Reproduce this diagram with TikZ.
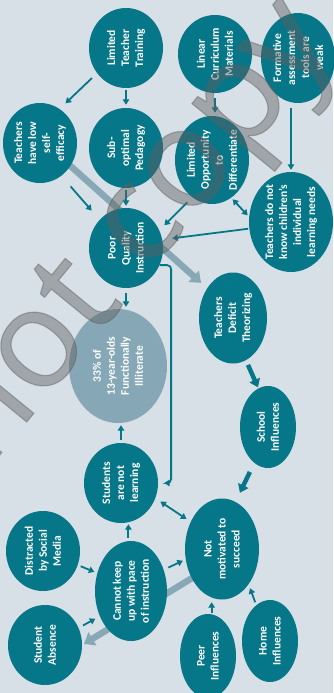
\documentclass[tikz,border=0pt]{standalone}
\usepackage{fontspec}
\setmainfont{Carlito}
\newfontfamily\wmfont{Open Sans}[FakeBold=0.8]
\usetikzlibrary{shapes.geometric,arrows.meta,calc}
\definecolor{bgc}{RGB}{215,224,231}
\definecolor{teal1}{RGB}{6,118,137}
\definecolor{lightb}{RGB}{134,167,181}
\definecolor{lightarr}{RGB}{137,168,182}
\definecolor{wmgray}{RGB}{95,95,95}
\pgfdeclarelayer{bglayer}
\pgfdeclarelayer{fglayer}
\pgfsetlayers{bglayer,main,fglayer}
\begin{document}
\begin{tikzpicture}[x=1pt,y=-1pt,
  bub/.style n args={2}{ellipse, fill=teal1, inner sep=0pt, minimum width=#1, minimum height=#2},
  txt/.style={rotate=90, align=center, text=white, inner sep=0pt,
              font=\fontsize{11.5}{14}\selectfont\bfseries},
  arr/.style={draw=teal1, line width=1.8pt, -{Triangle[width=6.5pt,length=5.5pt]}},
  darr/.style={draw=teal1, line width=1.8pt, {Triangle[width=6.5pt,length=5.5pt]}-{Triangle[width=6.5pt,length=5.5pt]}},
  bigarr/.style={draw=teal1, line width=4.5pt, -{Triangle[width=11pt,length=8pt]}},
  light/.style={draw=lightarr, line width=6.5pt, -{Triangle[width=15pt,length=10pt]}},
]
\useasboundingbox (0,0) rectangle (333,693);

% bubbles
\node[bub={74pt}{80pt}]   (ltt) at (126,48)  {};
\node[bub={74pt}{78pt}]   (lcm) at (215,54)  {};
\node[bub={74pt}{90pt}]   (fat) at (298,58)  {};
\node[bub={74pt}{80pt}]   (tls) at (40,143)  {};
\node[bub={74pt}{80pt}]   (sop) at (126,148) {};
\node[bub={74pt}{88pt}]   (lod) at (212,160) {};
\node[bub={84pt}{100pt}]  (tdn) at (291,222) {};
\node[bub={74pt}{80pt}]   (pqi) at (126,248) {};
\node[bub={98pt}{114pt}, fill=lightb] (lit) at (118,366) {};
\node[bub={68pt}{91pt}]   (tdt) at (233,318) {};
\node[bub={56pt}{82pt}]   (sch) at (268,427) {};
\node[bub={74pt}{80pt}]   (snl) at (121,483) {};
\node[bub={74pt}{80pt}]   (dsm) at (43,551)  {};
\node[bub={72pt}{100pt}]  (cku) at (131,591) {};
\node[bub={74pt}{80pt}]   (sab) at (45,645)  {};
\node[bub={74pt}{101pt}]  (nms) at (222,549) {};
\node[bub={56pt}{84pt}]   (pei) at (208,656) {};
\node[bub={56pt}{82pt}]   (hoi) at (270,641) {};

% texts
\node[txt] (ltt-t) at (ltt) {Limited\\Teacher\\Training};
\node[txt] (lcm-t) at (lcm) {Linear\\Curriculum\\Materials};
\node[txt] (fat-t) at (fat) {Formative\\assessment\\tools are\\weak};
\node[txt] (tls-t) at (tls) {Teachers\\have low\\self-\\efficacy};
\node[txt] (sop-t) at (sop) {Sub-\\optimal\\Pedagogy};
\node[txt] (lod-t) at (lod) {Limited\\Opportunity\\to\\Differentiate};
\node[txt] (tdn-t) at (tdn) {Teachers do not\\know children's\\individual\\learning needs};
\node[txt] (pqi-t) at (pqi) {Poor\\Quality\\Instruction};
\node[txt] (lit-t) at (lit) {33\% of\\13-year-olds\\Functionally\\Illiterate};
\node[txt] (tdt-t) at (tdt) {Teachers\\Deficit\\Theorizing};
\node[txt] (sch-t) at (sch) {School\\Influences};
\node[txt] (snl-t) at (snl) {Students\\are not\\learning};
\node[txt] (dsm-t) at (dsm) {Distracted\\by Social\\Media};
\node[txt] (cku-t) at (cku) {Cannot keep\\up with pace\\of instruction};
\node[txt] (sab-t) at (sab) {Student\\Absence};
\node[txt] (nms-t) at (nms) {Not\\motivated to\\succeed};
\node[txt] (pei-t) at (pei) {Peer\\Influences};
\node[txt] (hoi-t) at (hoi) {Home\\Influences};

% background and light arrows behind the bubbles
\begin{pgfonlayer}{bglayer}
\fill[bgc] (0,0) rectangle (333,693);
\draw[light, shorten <=-5pt, shorten >=8pt] (tls.-37) -- (tdt.131);
\draw[light, shorten <=-5pt, shorten >=2pt] (nms.224) -- (sab.0);
\end{pgfonlayer}

% connectors
\draw[arr, shorten <=7pt, shorten >=8pt] (ltt.221) -- (tls.60);
\draw[arr, shorten <=2pt, shorten >=3pt] (ltt.south) -- (sop.north);
\draw[arr, shorten <=5pt, shorten >=3pt] (lcm.south) -- (lcm.south |- lod.north);
\draw[arr, shorten <=5pt, shorten >=2pt] (tdn.north |- fat.south) -- (tdn.north);
\draw[arr, shorten <=14pt, shorten >=12pt] (tls.303) -- (pqi.133);
\draw[arr, shorten <=2pt, shorten >=2pt] (sop.south) -- (pqi.north);
\draw[arr, shorten <=7pt, shorten >=7pt] (lod.242) -- (pqi.28);
\draw[darr, shorten <=2pt, shorten >=2pt] (lod.297) -- (tdn.173);
\draw[arr, shorten <=1pt, shorten >=10pt] (tdn.189) -- (pqi.13);
\draw[arr, shorten <=5pt, shorten >=2pt] (pqi.south) -- (pqi.south |- lit.north);
\draw[arr, shorten <=3pt, shorten >=2pt] (snl.north) -- (snl.north |- lit.south);
\draw[arr, rounded corners=4pt, shorten >=6pt] (pqi.-27) -- ++(11.5,0) |- (snl.east);
\draw[bigarr, shorten <=5pt, shorten >=1pt] (tdt.287) -- (sch.104);
\draw[bigarr, shorten <=10pt, shorten >=10pt] (sch.249) -- (nms.74);
\draw[darr, shorten <=6pt, shorten >=5pt] (snl.-24) -- (nms.139);
\draw[arr, shorten <=3pt, shorten >=1pt] (cku.93) -- (cku.93 |- snl.south);
\draw[arr, shorten <=3pt, shorten >=3pt] (dsm.-22) -- (cku.152);
\draw[arr, shorten <=5pt, shorten >=5pt] (sab.27) -- (cku.219);
\draw[arr, shorten <=5pt, shorten >=3pt] (cku.33) -- (nms.196);
\draw[arr, shorten <=1pt, shorten >=2.5pt] (pei.85) -- (pei.85 |- nms.south);
\draw[arr, shorten <=3pt, shorten >=4pt] (hoi.111) -- (nms.-53);

% watermark
\begin{pgfonlayer}{fglayer}
\node[rotate=50.7, text=wmgray, text opacity=0.45, inner sep=0pt,
      font=\wmfont\fontsize{138}{138}\selectfont] (wm) at (140,238) {not copy};
\end{pgfonlayer}
\end{tikzpicture}
\end{document}
